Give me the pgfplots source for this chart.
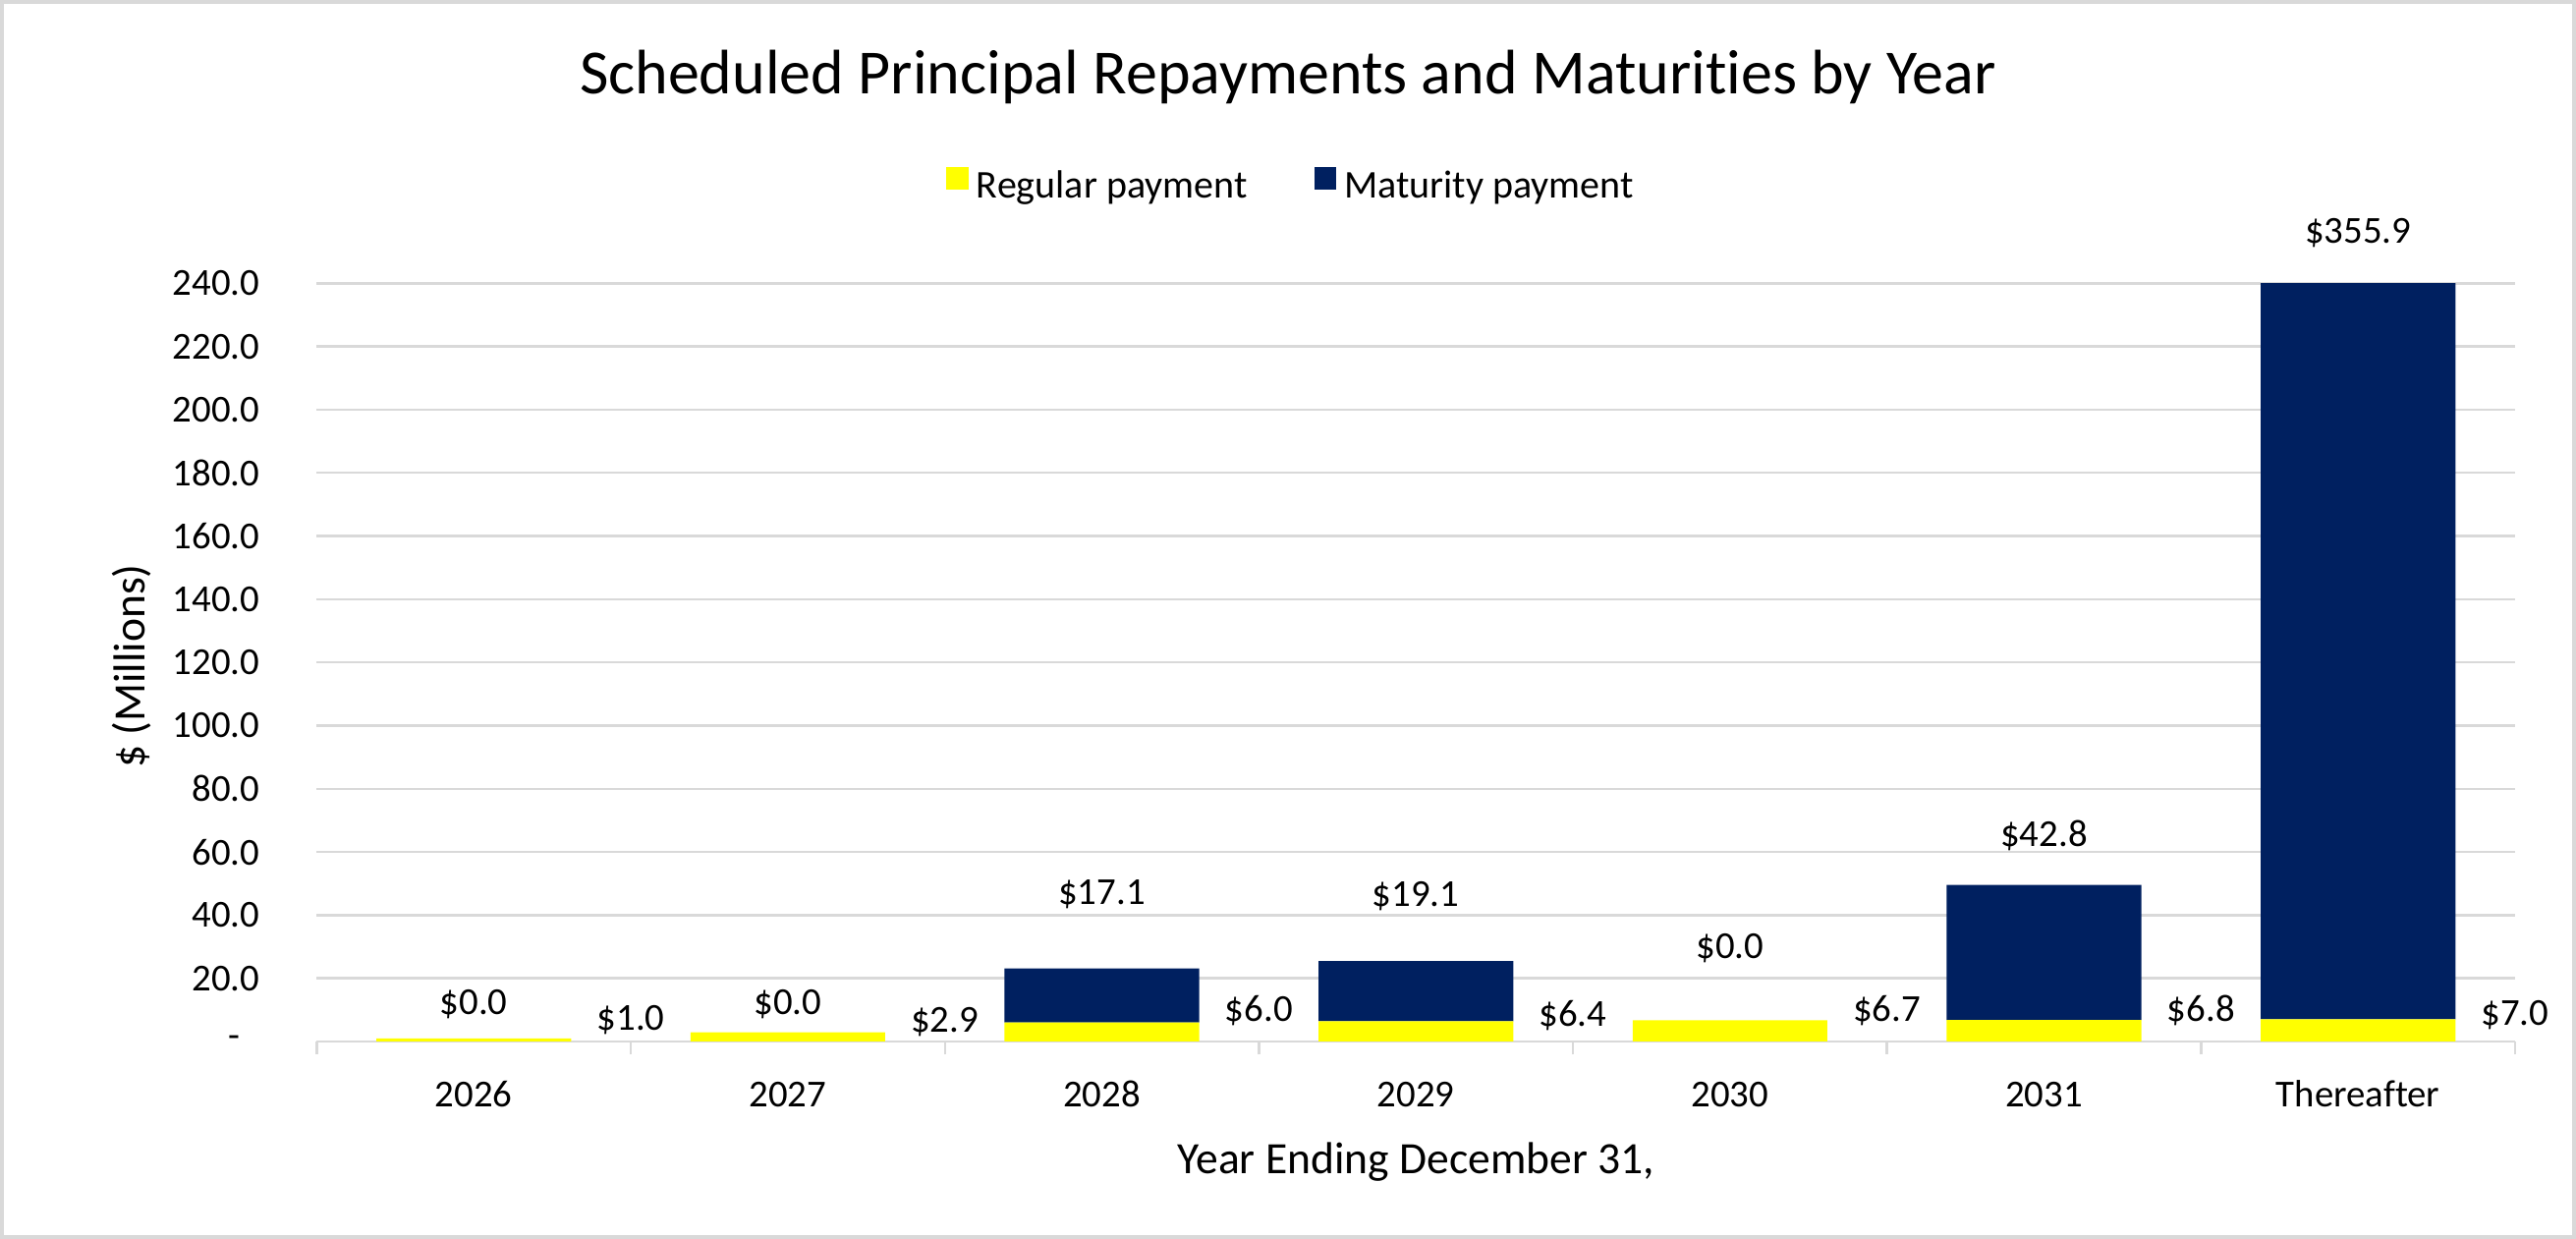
\documentclass[border=0pt]{standalone}
\usepackage{pgfplots}
\pgfplotsset{compat=1.18}
\usepackage{fontspec}
\setmainfont{Carlito}[Ligatures=NoCommon]
\definecolor{navy}{HTML}{002060}
\definecolor{ylw}{HTML}{FFFF00}
\definecolor{lgray}{HTML}{D9D9D9}
\begin{document}
\begin{tikzpicture}
\useasboundingbox (-80.6pt,-50.25pt) rectangle (574.9pt,265pt);
\draw[lgray, line width=1pt] (-80.1pt,-49.75pt) rectangle (574.4pt,264.5pt);
\node[anchor=base, font=\fontsize{16}{19}\selectfont] at (247.15pt,241pt) {Scheduled Principal Repayments and Maturities by Year};
\node[anchor=base, font=\fontsize{11.4}{13}\selectfont] at (279.7pt,-33.75pt) {Year Ending December 31,};
\node[anchor=base, rotate=90, font=\fontsize{11.4}{13}\selectfont] at (-43.6pt,95.5pt) {\$ (Millions)};
\begin{axis}[
  at={(0,0)}, anchor=south west,
  scale only axis, width=559.4pt, height=192.9pt,
  ybar stacked, bar width=0.62,
  xmin=-0.5, xmax=6.5, ymin=0, ymax=240,
  clip mode=individual,
  xtick={0,1,2,3,4,5,6},
  xticklabels={2026,2027,2028,2029,2030,2031,Thereafter},
  ytick={0,20,40,60,80,100,120,140,160,180,200,220,240},
  yticklabels={-\hphantom{0},20.0,40.0,60.0,80.0,100.0,120.0,140.0,160.0,180.0,200.0,220.0,240.0},
  major tick length=0pt,
  tick style={lgray, line width=0.6pt},
  extra x ticks={-0.5,0.5,1.5,2.5,3.5,4.5,5.5,6.5},
  extra x tick labels={},
  extra x tick style={major tick length=3.3pt, tick align=outside},
  ymajorgrids, grid style={lgray, line width=0.6pt},
  axis x line=bottom, axis y line=left,
  y axis line style={draw=none},
  x axis line style={lgray, line width=0.6pt, -},
  ticklabel style={font=\fontsize{9.7}{11}\selectfont},
  xticklabel style={anchor=north, inner sep=0pt, yshift=-10.4pt, text height=6.1pt},
  yticklabel style={anchor=east, inner sep=0pt, xshift=-14.3pt},
  legend style={at={(0.4445,1.127)}, anchor=center, draw=none, fill=none,
    legend columns=2, font=\fontsize{10}{12}\selectfont,
    /tikz/every even column/.append style={column sep=15pt}},
  legend image code/.code={\fill[#1] (0pt,-0.7pt) rectangle (5.7pt,5.0pt);},
]
\addplot[fill=ylw, draw=none] coordinates {(0,1.0) (1,2.9) (2,6.0) (3,6.4) (4,6.7) (5,6.8) (6,7.0)};
\addlegendentry{Regular payment}
\addplot[fill=navy, draw=none] coordinates {(0,0) (1,0) (2,17.1) (3,19.1) (4,0) (5,42.8) (6,355.9)};
\addlegendentry{Maturity payment}
% maturity labels
\node[font=\fontsize{9.7}{11}\selectfont] at (axis cs:0,11.9) {\$0.0};
\node[font=\fontsize{9.7}{11}\selectfont] at (axis cs:1,11.9) {\$0.0};
\node[font=\fontsize{9.7}{11}\selectfont] at (axis cs:2,46.7) {\$17.1};
\node[font=\fontsize{9.7}{11}\selectfont] at (axis cs:3,46.1) {\$19.1};
\node[font=\fontsize{9.7}{11}\selectfont] at (axis cs:4,29.5) {\$0.0};
\node[font=\fontsize{9.7}{11}\selectfont] at (axis cs:5,65.3) {\$42.8};
\node[font=\fontsize{9.7}{11}\selectfont] at (axis cs:6,255.9) {\$355.9};
% regular labels
\node[font=\fontsize{9.7}{11}\selectfont] at (axis cs:0.5,6.7) {\$1.0};
\node[font=\fontsize{9.7}{11}\selectfont] at (axis cs:1.5,6.2) {\$2.9};
\node[font=\fontsize{9.7}{11}\selectfont] at (axis cs:2.5,9.8) {\$6.0};
\node[font=\fontsize{9.7}{11}\selectfont] at (axis cs:3.5,8.3) {\$6.4};
\node[font=\fontsize{9.7}{11}\selectfont] at (axis cs:4.5,9.8) {\$6.7};
\node[font=\fontsize{9.7}{11}\selectfont] at (axis cs:5.5,9.8) {\$6.8};
\node[font=\fontsize{9.7}{11}\selectfont] at (axis cs:6.5,8.3) {\$7.0};
\end{axis}
\end{tikzpicture}
\end{document}
